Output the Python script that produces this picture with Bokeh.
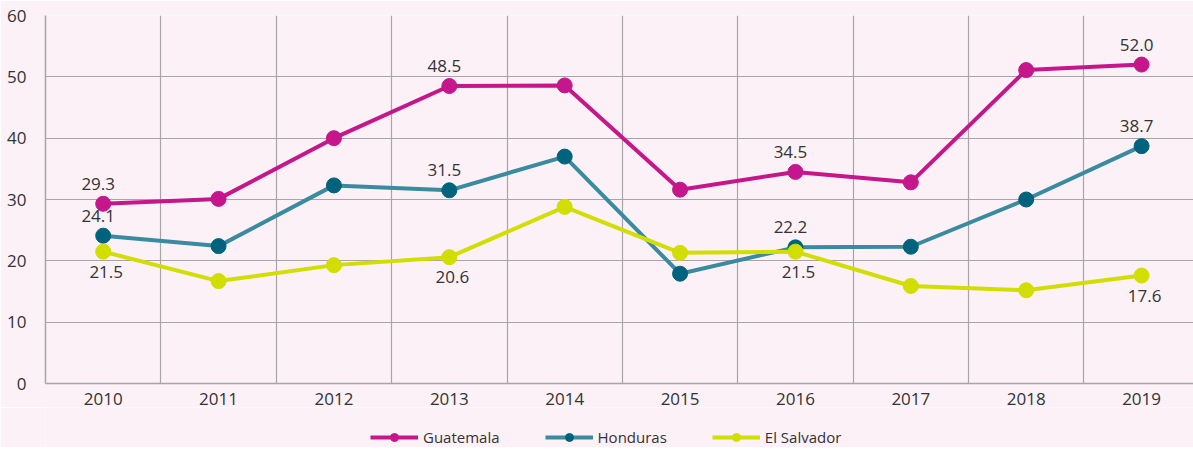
from bokeh.plotting import figure
from bokeh.layouts import column
from bokeh.models import ColumnDataSource, FixedTicker, Legend, LegendItem, Range1d, LabelSet
from bokeh.core.properties import value
from bokeh.embed import file_html
from bokeh.resources import INLINE

years = ["2010", "2011", "2012", "2013", "2014", "2015", "2016", "2017", "2018", "2019"]
guatemala = [29.3, 30.1, 40.0, 48.5, 48.6, 31.6, 34.5, 32.8, 51.1, 52.0]
honduras = [24.1, 22.4, 32.3, 31.5, 37.0, 17.9, 22.2, 22.3, 30.0, 38.7]
el_salvador = [21.5, 16.7, 19.3, 20.6, 28.8, 21.3, 21.5, 15.9, 15.2, 17.6]
labeled_years = ["2010", "2013", "2016", "2019"]
y_ticks = [0, 10, 20, 30, 40, 50, 60]

BG = "#fbf1f7"
FONT = "Open Sans"
TXT = "#333333"

series = [
    ("Guatemala", guatemala, "#c5168b", "#c5168b", "above"),
    ("Honduras", honduras, "#3a8aa0", "#00637d", "above"),
    ("El Salvador", el_salvador, "#d2dd00", "#d2dd00", "below"),
]

p = figure(frame_width=1148, frame_height=368, output_backend="svg", toolbar_location=None,
           x_range=Range1d(-0.5, 9.45), y_range=Range1d(0, 60),
           background_fill_color=BG, border_fill_color=BG,
           min_border_left=45, min_border_right=0, min_border_top=15, min_border_bottom=0)
p.outline_line_color = None

# legend strip: an axis-free figure under the chart; its ranges keep the series out of view
lg = figure(width=1193, height=40, output_backend="svg", toolbar_location=None,
            x_axis_type=None, y_axis_type=None,
            x_range=Range1d(0, 1), y_range=Range1d(1000, 1001),
            background_fill_color=BG, border_fill_color=BG,
            min_border_left=0, min_border_right=0, min_border_top=0, min_border_bottom=0)
lg.outline_line_color = None
lg.xgrid.visible = False
lg.ygrid.visible = False

xs = list(range(len(years)))
items = []
for name, vals, lc, mc, pos in series:
    src = ColumnDataSource(dict(x=xs, y=vals))
    p.line("x", "y", source=src, line_color=lc, line_width=4)
    p.scatter("x", "y", source=src, size=15, fill_color=mc, line_color=mc)
    ln = lg.line("x", "y", source=src, line_color=lc, line_width=4)
    mk = lg.scatter("x", "y", source=src, size=13, fill_color=mc, line_color=mc)
    items.append(LegendItem(label=name, renderers=[ln, mk]))
    lx = [years.index(yy) for yy in labeled_years]
    ly = [vals[i] for i in lx]
    lt = ["%.1f" % v for v in ly]
    lsrc = ColumnDataSource(dict(x=lx, y=ly, t=lt))
    if pos == "above":
        ls = LabelSet(x="x", y="y", text="t", source=lsrc, x_offset=-5, y_offset=14,
                      text_align="center", text_baseline="bottom",
                      text_font=value(FONT), text_font_size=value("17px"), text_color=TXT)
    else:
        ls = LabelSet(x="x", y="y", text="t", source=lsrc, x_offset=3, y_offset=-14,
                      text_align="center", text_baseline="top",
                      text_font=value(FONT), text_font_size=value("17px"), text_color=TXT)
    p.add_layout(ls)

# axes
p.xaxis.ticker = FixedTicker(ticks=xs)
p.xaxis.major_label_overrides = {i: y for i, y in enumerate(years)}
p.yaxis.ticker = FixedTicker(ticks=y_ticks)
for ax in (p.xaxis[0], p.yaxis[0]):
    ax.axis_line_color = "#a8a4a8"
    ax.axis_line_width = 1.5
    ax.major_tick_line_color = None
    ax.minor_tick_line_color = None
    ax.major_label_text_font = FONT
    ax.major_label_text_font_size = "17px"
    ax.major_label_text_color = TXT
p.xaxis.major_label_standoff = 3
p.yaxis.major_label_standoff = 13

p.xgrid.ticker = FixedTicker(ticks=[i + 0.5 for i in range(len(years))])
p.xgrid.grid_line_color = "#a8a4a8"
p.xgrid.grid_line_width = 1.2
p.ygrid.ticker = FixedTicker(ticks=y_ticks)
p.ygrid.grid_line_color = "#a8a4a8"
p.ygrid.grid_line_width = 1.2

legend = Legend(items=items, orientation="horizontal", location=(325, 0),
                background_fill_alpha=0, border_line_alpha=0,
                label_text_font=FONT, label_text_font_size="15px", label_text_color=TXT,
                glyph_width=48, glyph_height=20, label_standoff=5, spacing=45,
                label_height=20, margin=0, padding=0)
lg.add_layout(legend, "center")

layout = column(p, lg, spacing=0)
open("out.html", "w").write(file_html(layout, INLINE))
